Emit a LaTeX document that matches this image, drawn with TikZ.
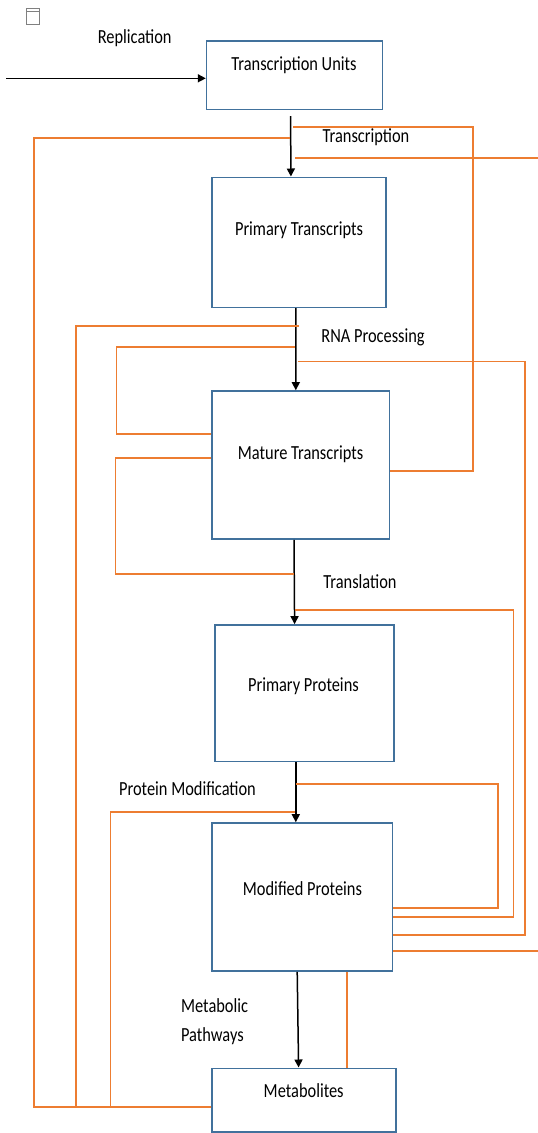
\documentclass[tikz,border=0pt]{standalone}
\usepackage{fontspec}
\setmainfont{Carlito}[FakeStretch=0.82]
\usetikzlibrary{arrows.meta, calc}
\definecolor{boxblue}{HTML}{41719C}
\definecolor{fborange}{HTML}{ED7D31}
\begin{document}
\begin{tikzpicture}[x=1pt, y=-1pt,
    procbox/.style={draw=boxblue, line width=1.6pt, inner sep=0pt},
    flow/.style={draw=black, line width=1.5pt, -{Triangle[length=8pt, width=8pt]}},
    fb/.style={draw=fborange, line width=1.8pt},
    lbl/.style={font=\fontsize{20}{28.5}\selectfont, inner sep=0pt}
    ]
\useasboundingbox (0,0) rectangle (538,1133);

% small icon in the corner
\draw[gray, line width=1pt] (26,8) rectangle (39,24);
\draw[gray, line width=1pt] (26,11.5) -- (39,11.5);

% main chain
\node[procbox, minimum width=176pt, minimum height=68.6pt] (units) at (294.6,75) {};
\node[procbox, minimum width=174.3pt, minimum height=130pt] (primTr) at (298.9,242.3) {};
\node[procbox, minimum width=177.8pt, minimum height=148pt] (mature) at (300.6,465) {};
\node[procbox, minimum width=178.8pt, minimum height=136.7pt] (primPr) at (304.6,693.3) {};
\node[procbox, minimum width=180.6pt, minimum height=148pt] (modPr) at (302,897) {};
\node[procbox, minimum width=184pt, minimum height=63.4pt] (metab) at (303.7,1100) {};

\node[lbl] (unitsText) at (294,65) {Transcription Units};
\node[lbl] (primTrText) at (299,230) {Primary Transcripts};
\node[lbl] (matureText) at (300.6,454.3) {Mature Transcripts};
\node[lbl] (primPrText) at (303.4,686) {Primary Proteins};
\node[lbl] (modPrText) at (302.5,888.3) {Modified Proteins};
\node[lbl] (metabText) at (303.7,1090.7) {Metabolites};

% step labels
\node[lbl] (replLbl) at (134.7,38) {Replication};
\node[lbl] (trLbl) at (366,137) {Transcription};
\node[lbl] (rnaLbl) at (373,337.7) {RNA Processing};
\node[lbl] (tlLbl) at (360,581.7) {Translation};
\node[lbl] (pmLbl) at (187.5,789) {Protein Modification};
\node[lbl, anchor=west, align=left] (mpLbl) at (180.9,1021.5) {Metabolic\\Pathways};

\coordinate (replStart) at (6,78.3);
\draw[flow] (replStart) -- (replStart -| units.west);
\draw[flow] ([xshift=-4pt, yshift=-6pt]units.south) -- ([xshift=-8pt]primTr.north);
\draw[flow] ([xshift=-3pt]primTr.south) -- ([xshift=-4.8pt]mature.north);
\draw[flow] ([xshift=-6.6pt]mature.south) -- ([xshift=-10pt]primPr.north);
\draw[flow] ([xshift=-8.8pt]primPr.south) -- ([xshift=-6.2pt]modPr.north);
\draw[flow] ([xshift=-4.8pt]modPr.south) -- ([xshift=-5.1pt]metab.north);

% feedback taps on the main chain
\coordinate (tapTrA) at (293,127);
\coordinate (tapTrB) at (290,137.7);
\coordinate (tapTrC) at (295,157.7);
\coordinate (tapRnaA) at (299,326);
\coordinate (tapRnaB) at (295,347);
\coordinate (tapRnaC) at (298,361.5);
\coordinate (tapTlA) at (294,574);
\coordinate (tapTlB) at (295,610);
\coordinate (tapPmA) at (296,784);
\coordinate (tapPmB) at (295,812.3);
\coordinate (edgeA) at (538,157.7);
\coordinate (edgeB) at (538,951);

% feedback loops
\draw[fb] (tapTrA) -| (473,471) -- (mature.east |- 0,471);
\draw[fb] (tapTrC) -- (edgeA);
\draw[fb] (tapTrB) -| (34.3,1107.3) -- (metab.west |- 0,1107.3);
\draw[fb] (tapRnaA) -| (76,1107.3);
\draw[fb] (tapRnaB) -| (116.5,434) -- (mature.west |- 0,434);
\draw[fb] (mature.west |- 0,458) -| (115.5,574) -- (tapTlA);
\draw[fb] (tapRnaC) -| (525,935) -- (modPr.east |- 0,935);
\draw[fb] (tapTlB) -| (513.5,917) -- (modPr.east |- 0,917);
\draw[fb] (tapPmA) -| (497.6,908) -- (modPr.east |- 0,908);
\draw[fb] (tapPmB) -| (110.5,1107.3);
\draw[fb] (modPr.east |- 0,951) -- (edgeB);
\draw[fb] (modPr.south -| 346.6,0) -- (metab.north -| 346.6,0);
\end{tikzpicture}
\end{document}
